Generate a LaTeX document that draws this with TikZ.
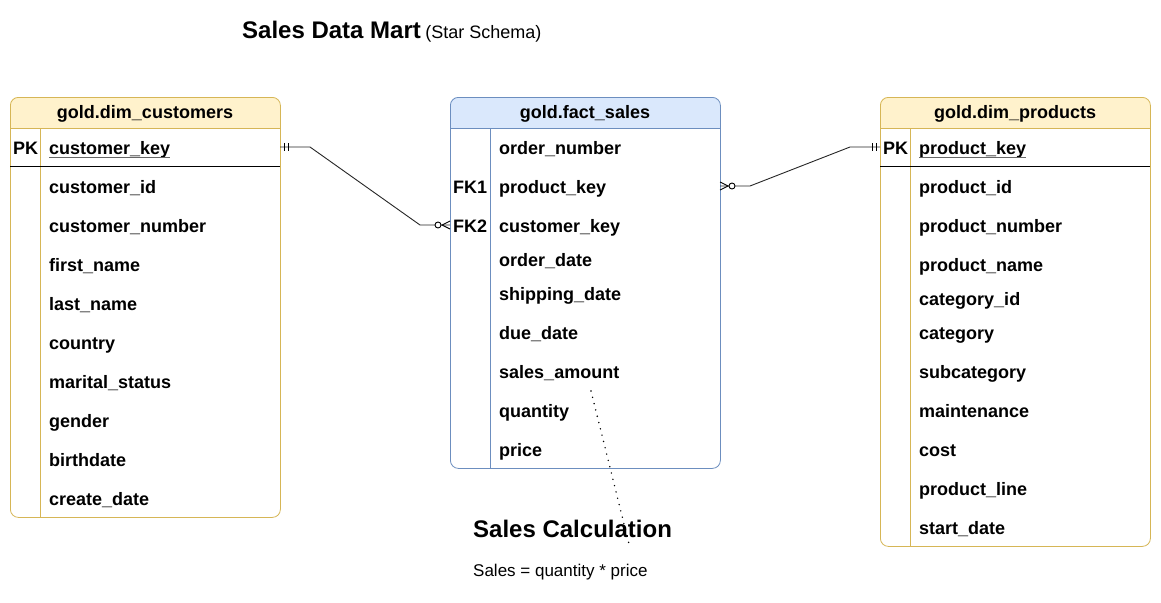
\documentclass[tikz,border=0pt]{standalone}
\usepackage{fontspec}
\setmainfont{Liberation Sans}
\definecolor{yfill}{HTML}{FFF2CC}
\definecolor{ydraw}{HTML}{D6B656}
\definecolor{bfill}{HTML}{DAE8FC}
\definecolor{bdraw}{HTML}{6C8EBF}
\definecolor{ulgray}{HTML}{666666}
\tikzset{
  fld/.style={anchor=base west, inner sep=0pt, font=\fontsize{18}{20}\selectfont\bfseries},
  hdr/.style={anchor=base, inner sep=0pt, font=\fontsize{18}{20}\selectfont\bfseries},
  tbl/.style={draw=#1, rounded corners=8pt, line width=0.8pt, anchor=north west, inner sep=0pt},
  conn/.style={draw=black!85, line width=0.9pt},
  ermark/.style={draw=black, line width=0.9pt},
}
\begin{document}
\begin{tikzpicture}[x=1pt,y=-1pt]
\useasboundingbox (0,0) rectangle (1161,602);
\fill[white] (0,0) rectangle (1161,602);

% ---------- title ----------
\node[anchor=base west, inner sep=0pt, font=\fontsize{24}{26}\selectfont\bfseries] (title) at (242,39) {Sales Data Mart};
\node[anchor=base west, inner sep=0pt, font=\fontsize{18}{20}\selectfont] (subtitle) at ([xshift=4pt]title.base east) {(Star Schema)};

% ---------- dim_customers ----------
\begin{scope}
  \clip[rounded corners=8pt] (10,97) rectangle (280,517);
  \fill[yfill] (10,97) rectangle (280,128);
\end{scope}
\node[tbl=ydraw, minimum width=270pt, minimum height=420pt] (cust) at (10,97) {};
\draw[ydraw, line width=0.8pt] (10,128) -- (280,128);
\draw[ydraw, line width=0.8pt] (40,128) -- (40,517);
\draw[black, line width=0.8pt] (10,166) -- (280,166);
\node[hdr] (custh) at (145,118.5) {gold.dim\_customers};
\node[fld] (custpk) at (13,154.5) {PK};
\foreach \n/\t/\y in {0/customer\_key/148, 1/customer\_id/187, 2/customer\_number/226, 3/first\_name/265, 4/last\_name/304, 5/country/343, 6/marital\_status/382, 7/gender/421, 8/birthdate/460, 9/create\_date/499}
  \node[fld] (c\n) at (49,\y+6.5) {\t};
\draw[ulgray, line width=0.9pt] ([yshift=-2.5pt]c0.base west) -- ([yshift=-2.5pt]c0.base east);

% ---------- fact_sales ----------
\begin{scope}
  \clip[rounded corners=8pt] (450,97) rectangle (720,468);
  \fill[bfill] (450,97) rectangle (720,128);
\end{scope}
\node[tbl=bdraw, minimum width=270pt, minimum height=371pt] (fact) at (450,97) {};
\draw[bdraw, line width=0.8pt] (450,128) -- (720,128);
\draw[bdraw, line width=0.8pt] (490,128) -- (490,468);
\node[hdr] (facth) at (585,118.5) {gold.fact\_sales};
\node[fld] (fk1) at (453,193.5) {FK1};
\node[fld] (fk2) at (453,232.5) {FK2};
\foreach \n/\t/\y in {0/order\_number/148, 1/product\_key/187, 2/customer\_key/226, 3/order\_date/260, 4/shipping\_date/294, 5/due\_date/333, 6/sales\_amount/372, 7/quantity/411, 8/price/450}
  \node[fld] (f\n) at (499,\y+6.5) {\t};

% ---------- dim_products ----------
\begin{scope}
  \clip[rounded corners=8pt] (880,97) rectangle (1150,546);
  \fill[yfill] (880,97) rectangle (1150,128);
\end{scope}
\node[tbl=ydraw, minimum width=270pt, minimum height=449pt] (prod) at (880,97) {};
\draw[ydraw, line width=0.8pt] (880,128) -- (1150,128);
\draw[ydraw, line width=0.8pt] (910,128) -- (910,546);
\draw[black, line width=0.8pt] (880,166) -- (1150,166);
\node[hdr] (prodh) at (1015,118.5) {gold.dim\_products};
\node[fld] (prodpk) at (883,154.5) {PK};
\foreach \n/\t/\y in {0/product\_key/148, 1/product\_id/187, 2/product\_number/226, 3/product\_name/265, 4/category\_id/299, 5/category/333, 6/subcategory/372, 7/maintenance/411, 8/cost/450, 9/product\_line/489, 10/start\_date/528}
  \node[fld] (p\n) at (919,\y+6.5) {\t};
\draw[ulgray, line width=0.9pt] ([yshift=-2.5pt]p0.base west) -- ([yshift=-2.5pt]p0.base east);

% ---------- connector: customers -> fact ----------
\coordinate (ca) at (280,147);
\coordinate (cb) at (310,147);
\coordinate (cc) at (420,225);
\coordinate (cd) at (450,225);
\draw[conn] (ca) -- (cb) -- (cc) -- (cd);
\draw[ermark] (284,143) -- (284,151);
\draw[ermark] (288,143) -- (288,151);
\draw[ermark, fill=white] (438,225) circle (3pt);
\draw[ermark] (450,221) -- (442,225) -- (450,229);

% ---------- connector: fact -> products ----------
\coordinate (pa) at (720,186);
\coordinate (pb) at (750,186);
\coordinate (pc) at (850,147);
\coordinate (pd) at (880,147);
\draw[conn] (pa) -- (pb) -- (pc) -- (pd);
\draw[ermark] (720,182) -- (728,186) -- (720,190);
\draw[ermark, fill=white] (732,186) circle (3pt);
\draw[ermark] (872,143) -- (872,151);
\draw[ermark] (876,143) -- (876,151);

% ---------- sales calculation note ----------
\node[anchor=base west, inner sep=0pt, font=\fontsize{24}{26}\selectfont\bfseries] (calc) at (473,537) {Sales Calculation};
\node[anchor=base west, inner sep=0pt, font=\fontsize{17}{20}\selectfont] (formula) at (473,576) {Sales = quantity * price};
\coordinate (d1) at (591,391);
\coordinate (d2) at (630,548);
\draw[black, line width=1.6pt, line cap=round, dash pattern=on 0pt off 6.5pt] (d1) -- (d2);
\end{tikzpicture}
\end{document}
